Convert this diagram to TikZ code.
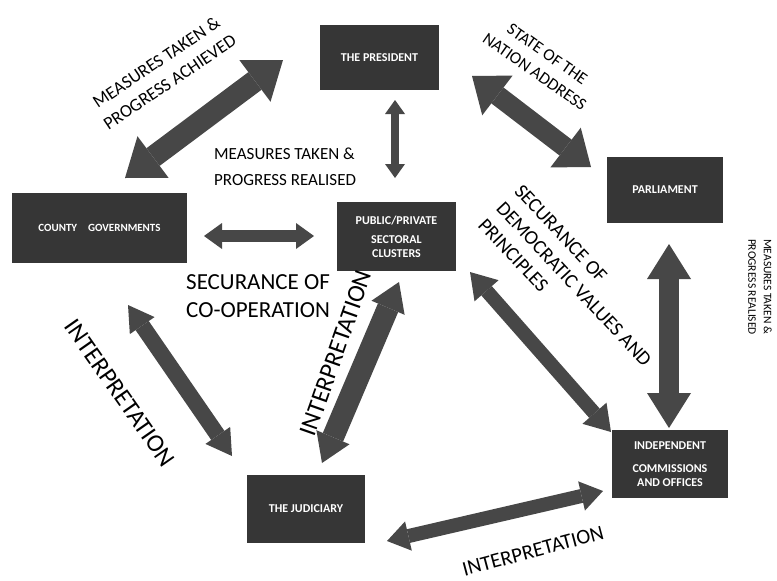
\documentclass[tikz,border=0pt]{standalone}
\usepackage{fontspec}
\setmainfont{Carlito}
\usetikzlibrary{arrows.meta}
\definecolor{boxgray}{HTML}{363636}
\definecolor{arrgray}{HTML}{474747}
\begin{document}
\begin{tikzpicture}[x=1pt,y=-1pt,
 box/.style={fill=boxgray, text=white, font=\bfseries\fontsize{12}{13}\selectfont, align=center, inner sep=0pt},
 fat/.style n args={3}{draw=arrgray, line width=#1pt,
   {Triangle[width=#2pt,length=#3pt,line width=0pt]}-{Triangle[width=#2pt,length=#3pt,line width=0pt]}},
 lbl/.style={font=\fontsize{#1}{#1}\selectfont, align=center, inner sep=0pt},
]
\fill[white] (0,0) rectangle (777,581);
\useasboundingbox (0,0) rectangle (777,581);

% boxes
\node[box, minimum width=119pt, minimum height=65pt] (pres) at (379.5,57.5) {THE PRESIDENT};
\node[box, minimum width=175pt, minimum height=70pt, font=\bfseries\fontsize{11}{12}\selectfont] (county) at (99.5,228) {COUNTY\quad GOVERNMENTS};
\node[box, minimum width=119pt, minimum height=69pt] (pub) at (396.5,236.5) {PUBLIC/PRIVATE\\[6pt] SECTORAL\\[1pt] CLUSTERS};
\node[box, minimum width=116pt, minimum height=66pt] (parl) at (665,190) {PARLIAMENT};
\node[box, minimum width=118pt, minimum height=68pt] (jud) at (306,509) {THE JUDICIARY};
\node[box, minimum width=116pt, minimum height=68pt] (ind) at (670,464) {INDEPENDENT\\[10pt] COMMISSIONS\\[1pt] AND OFFICES};

% arrow end points
\coordinate (cpA) at (125,178);  \coordinate (cpB) at (283,60);
\coordinate (ppA) at (395,100);  \coordinate (ppB) at (395,178);
\coordinate (cbA) at (204,236);  \coordinate (cbB) at (314,236);
\coordinate (plA) at (472,76);   \coordinate (plB) at (591,167);
\coordinate (piA) at (669,244);  \coordinate (piB) at (669,428);
\coordinate (biA) at (470,272);  \coordinate (biB) at (611,432);
\coordinate (bjA) at (399,282);  \coordinate (bjB) at (322,463);
\coordinate (cjA) at (128,305);  \coordinate (cjB) at (232,456);
\coordinate (jiA) at (387,541);  \coordinate (jiB) at (603,491);

\draw[fat={22}{52}{35}] (cpA) -- (cpB);
\draw[fat={8}{20}{14}] (ppA) -- (ppB);
\draw[fat={12}{26}{18}] (cbA) -- (cbB);
\draw[fat={20}{50}{32}] (plA) -- (plB);
\draw[fat={20}{44}{35}] (piA) -- (piB);
\draw[fat={14}{32}{25}] (biA) -- (biB);
\draw[fat={22}{36}{28}] (bjA) -- (bjB);
\draw[fat={16}{30}{25}] (cjA) -- (cjB);
\draw[fat={14}{30}{22}] (jiA) -- (jiB);

% labels
\node[lbl=18, rotate=34] (l1) at (163,72) {MEASURES TAKEN \&\\[6pt] PROGRESS ACHIEVED};
\node[lbl=17, align=left, anchor=west] (l2) at (214,167) {MEASURES TAKEN \&\\[9pt] PROGRESS REALISED};
\node[lbl=23, align=left, anchor=west] (l3) at (186,296) {SECURANCE OF\\[5pt] CO-OPERATION};
\node[lbl=17, rotate=-35] (l4) at (541,63) {STATE OF THE\\[5pt] NATION ADDRESS};
\node[lbl=20, align=left, rotate=-47] (l5) at (574,284) {SECURANCE OF\\[5pt] DEMOCRATIC VALUES AND\\[5pt] PRINCIPLES};
\node[lbl=11.5, align=left, rotate=-90] (l6) at (760,287) {MEASURES TAKEN \&\\[4pt] PROGRESS REALISED};
\node[lbl=25, rotate=-55] (l7) at (120,393) {INTERPRETATION};
\node[lbl=25, rotate=70.6] (l8) at (336,353) {INTERPRETATION};
\node[lbl=21, rotate=15] (l9) at (533,551) {INTERPRETATION};
\end{tikzpicture}
\end{document}
